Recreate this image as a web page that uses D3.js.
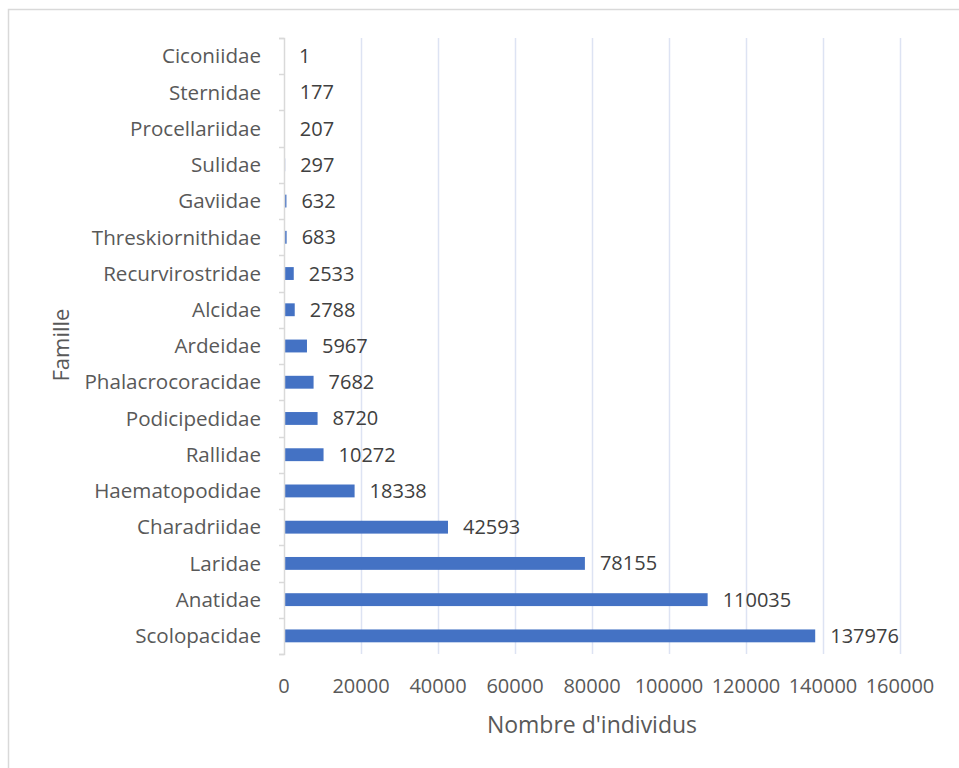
<!DOCTYPE html>
<html>
<head>
<meta charset="utf-8">
<script src="https://cdn.jsdelivr.net/npm/d3@7"></script>
<style>
  body { margin: 0; background: #fff; }
  svg { display: block; }
  .lbl { font-family: "Open Sans", sans-serif; }
</style>
</head>
<body>
<svg width="959" height="768"></svg>
<script>
// familles, du haut vers le bas
var familles = ["Ciconiidae", "Sternidae", "Procellariidae", "Sulidae", "Gaviidae",
  "Threskiornithidae", "Recurvirostridae", "Alcidae", "Ardeidae", "Phalacrocoracidae",
  "Podicipedidae", "Rallidae", "Haematopodidae", "Charadriidae", "Laridae",
  "Anatidae", "Scolopacidae"];
var individus = [1, 177, 207, 297, 632, 683, 2533, 2788, 5967, 7682,
  8720, 10272, 18338, 42593, 78155, 110035, 137976];
var xTicks = [0, 20000, 40000, 60000, 80000, 100000, 120000, 140000, 160000];

var data = familles.map(function(f, i) { return {famille: f, n: individus[i]}; });

var svg = d3.select("svg"),
    margin = {top: 38, right: 59, bottom: 114, left: 284},
    width = +svg.attr("width") - margin.left - margin.right,
    height = +svg.attr("height") - margin.top - margin.bottom;

// cadre (haut + gauche seulement visibles)
svg.append("rect")
    .attr("x", 8.5).attr("y", 9.5)
    .attr("width", 1000).attr("height", 1000)
    .attr("fill", "none")
    .attr("stroke", "#d9d9d9")
    .attr("stroke-width", 1.5);

var g = svg.append("g").attr("transform", "translate(" + margin.left + "," + margin.top + ")");

var x = d3.scaleLinear().domain([0, 160000]).range([0, width]);
var y = d3.scaleBand().domain(familles).range([0, height]).paddingInner(0.645).paddingOuter(0.3225);
var yb = d3.scaleBand().domain(familles).range([0, height]); // bandes entières pour les graduations

// grille
g.append("g")
  .selectAll("line")
  .data(xTicks.slice(1))
  .enter().append("line")
    .attr("x1", function(d) { return Math.round(x(d)) + 0.5; })
    .attr("x2", function(d) { return Math.round(x(d)) + 0.5; })
    .attr("y1", 0).attr("y2", height)
    .attr("stroke", "#dde3f3")
    .attr("stroke-width", 1.5);

// barres
g.append("g")
  .selectAll("rect")
  .data(data)
  .enter().append("rect")
    .attr("x", x(0))
    .attr("y", function(d) { return y(d.famille); })
    .attr("width", function(d) { return x(d.n); })
    .attr("height", y.bandwidth())
    .attr("fill", "#4472c4");

// axe vertical
var ax = g.append("g")
    .call(d3.axisLeft(yb).tickSize(5).tickSizeOuter(5).tickFormat("").tickValues([]));
ax.select(".domain").attr("stroke", "#d9d9d9").attr("stroke-width", 1.5);
ax.selectAll(".tk")
  .data(d3.range(familles.length + 1))
  .enter().append("line")
    .attr("class", "tk")
    .attr("x1", -5).attr("x2", 0)
    .attr("y1", function(i) { return Math.round(i * yb.step()) + 0.5; })
    .attr("y2", function(i) { return Math.round(i * yb.step()) + 0.5; })
    .attr("stroke", "#d9d9d9").attr("stroke-width", 1.5);

// libellés des familles
g.append("g")
  .selectAll("text")
  .data(familles)
  .enter().append("text")
    .attr("class", "lbl")
    .attr("x", -23)
    .attr("y", function(d) { return yb(d) + yb.bandwidth() / 2; })
    .attr("dy", "0.35em")
    .attr("text-anchor", "end")
    .attr("font-size", 20.6)
    .attr("fill", "#595959")
    .text(function(d) { return d; });

// étiquettes de données
g.append("g")
  .selectAll("text")
  .data(data)
  .enter().append("text")
    .attr("class", "lbl")
    .attr("x", function(d) { return x(d.n) + 15; })
    .attr("y", function(d) { return y(d.famille) + y.bandwidth() / 2; })
    .attr("dy", "0.35em")
    .attr("font-size", 20)
    .attr("fill", "#404040")
    .text(function(d) { return d.n; });

// graduations de l'axe x
g.append("g")
  .selectAll("text")
  .data(xTicks)
  .enter().append("text")
    .attr("class", "lbl")
    .attr("x", function(d) { return x(d); })
    .attr("y", height + 39)
    .attr("text-anchor", "middle")
    .attr("font-size", 20)
    .attr("fill", "#595959")
    .text(function(d) { return d; });

// titres des axes
g.append("text")
    .attr("class", "lbl")
    .attr("x", width / 2)
    .attr("y", height + 79)
    .attr("text-anchor", "middle")
    .attr("font-size", 23)
    .attr("fill", "#595959")
    .text("Nombre d'individus");

svg.append("text")
    .attr("class", "lbl")
    .attr("transform", "translate(69," + 345 + ") rotate(-90)")
    .attr("text-anchor", "middle")
    .attr("font-size", 22)
    .attr("fill", "#595959")
    .text("Famille");
</script>
</body>
</html>
